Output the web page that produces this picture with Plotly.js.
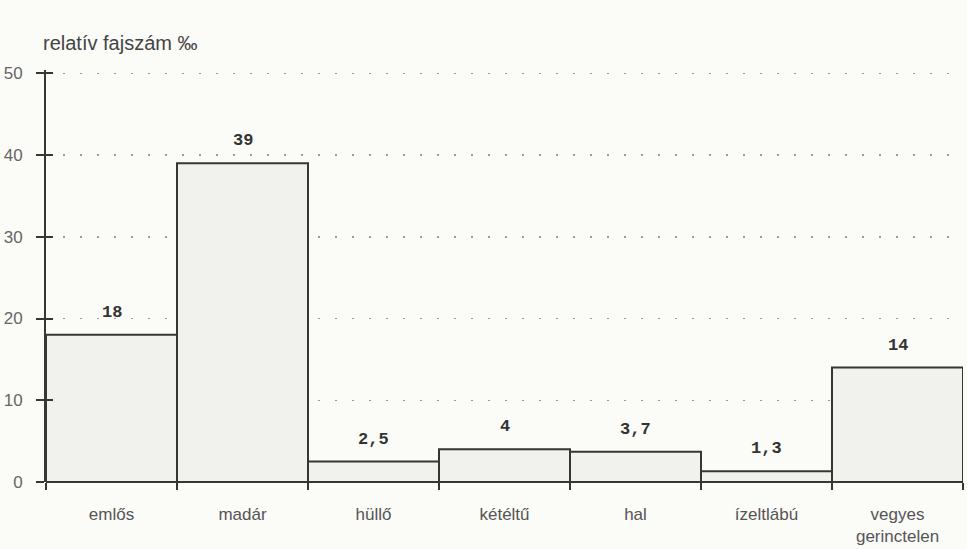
<!DOCTYPE html>
<html><head><meta charset="utf-8">
<script src="https://cdn.plot.ly/plotly-3.0.1.min.js"></script>
<style>html,body{margin:0;padding:0;background:#fbfbf8;}</style>
</head><body>
<div id="chart" style="width:967px;height:549px;"></div>
<script>
const categories = ["emlős", "madár", "hüllő", "kétéltű", "hal", "ízeltlábú", "vegyes<br>gerinctelen"];
const values = [18, 39, 2.5, 4, 3.7, 1.3, 14];
const valueLabels = ["18", "39", "2,5", "4", "3,7", "1,3", "14"];
const yTicks = [0, 10, 20, 30, 40, 50];

const trace = {
  type: 'bar',
  x: categories,
  y: values,
  marker: {color: '#f1f1ee', line: {color: '#363636', width: 2}},
  width: 1,
  hoverinfo: 'skip'
};
// invisible companion so the overlaid axis (inner half of the cross ticks) is drawn
const ghost = {
  type: 'scatter', mode: 'markers', x: categories, y: values,
  yaxis: 'y2', marker: {opacity: 0}, hoverinfo: 'skip'
};

const annotations = categories.map((c, i) => ({
  x: c, y: values[i], xref: 'x', yref: 'y',
  text: '<b>' + valueLabels[i] + '</b>', showarrow: false,
  yanchor: 'bottom', yshift: 11,
  font: {family: 'Liberation Mono, Courier New, monospace', size: 17, color: '#333'}
}));
annotations.push({
  xref: 'paper', yref: 'paper', x: -0.005, y: 1.033, xanchor: 'left', yanchor: 'bottom',
  text: 'relatív fajszám ‰', showarrow: false,
  font: {family: 'Liberation Sans, Arial, sans-serif', size: 20, color: '#444'}
});

const yRange = [0, 50.4];
const layout = {
  width: 967, height: 549,
  margin: {l: 46, r: 4, t: 70, b: 67},
  paper_bgcolor: '#fbfbf8', plot_bgcolor: '#fbfbf8',
  bargap: 0,
  showlegend: false,
  xaxis: {
    type: 'category',
    tickson: 'boundaries',
    ticks: 'outside', ticklen: 7, tickwidth: 2, tickcolor: '#363636',
    showgrid: false,
    showline: false,
    tickfont: {family: 'Liberation Sans, Arial, sans-serif', size: 17, color: '#555'},
    ticklabelstandoff: 20,
    fixedrange: true
  },
  yaxis: {
    range: yRange,
    tickvals: yTicks,
    ticktext: yTicks.map(String),
    ticks: 'outside', ticklen: 8, tickwidth: 2, tickcolor: '#363636',
    showline: true, linecolor: '#363636', linewidth: 2,
    showgrid: true, gridcolor: '#999', gridwidth: 1.5, griddash: '2px,15px',
    zeroline: true, zerolinecolor: '#363636', zerolinewidth: 2,
    tickfont: {family: 'Liberation Sans, Arial, sans-serif', size: 17, color: '#666'},
    ticklabelstandoff: 10,
    fixedrange: true
  },
  yaxis2: {
    overlaying: 'y', range: yRange, tickvals: yTicks,
    ticks: 'inside', ticklen: 7, tickwidth: 2, tickcolor: '#363636',
    showticklabels: false, showgrid: false, zeroline: false, showline: false,
    fixedrange: true
  },
  annotations: annotations
};

Plotly.newPlot('chart', [trace, ghost], layout, {displayModeBar: false, staticPlot: true});
</script>
</body></html>
